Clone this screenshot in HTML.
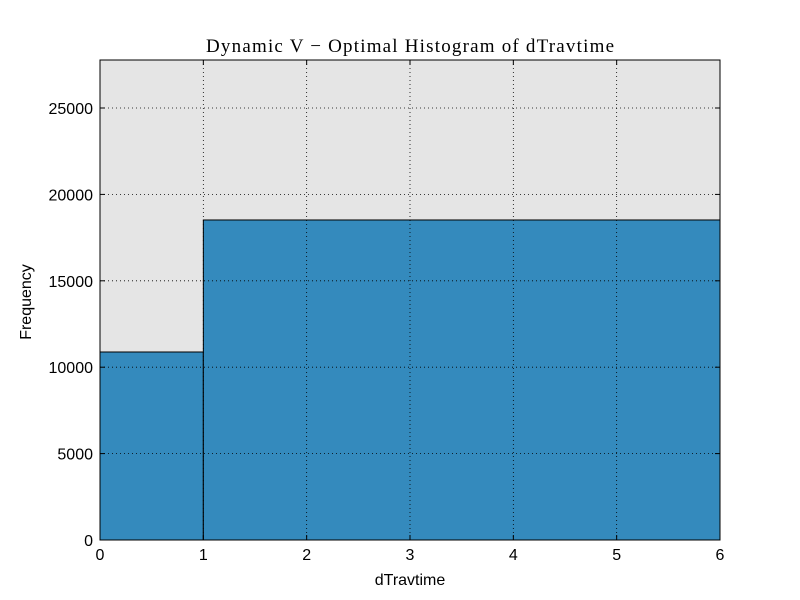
<!DOCTYPE html>
<html><head><meta charset="utf-8"><style>
body{margin:0;background:#fff;}
svg{display:block;font-family:"Liberation Sans",sans-serif;}
</style></head><body>
<svg id="chart" width="800" height="600">
<rect x="0" y="0" width="800" height="600" fill="#fff"/>
<rect x="100" y="60" width="620" height="480" fill="#e5e5e5"/>
<g id="bars"></g><g id="grid"></g>
<rect x="100" y="60" width="620" height="480" fill="none" stroke="#000" stroke-width="1"/>
<g id="ticks"></g>
<text x="410" y="52" text-anchor="middle" font-family="'Liberation Serif',serif" font-size="19" textLength="408" lengthAdjust="spacing">Dynamic V − Optimal Histogram of dTravtime</text>
<text x="410" y="585" text-anchor="middle" font-size="16">dTravtime</text>
<text x="31" y="302" text-anchor="middle" font-size="16" transform="rotate(-90 31 302)">Frequency</text>
</svg>
<script>
const binEdges=[0,1,6];
const counts=[10880,18520];
const xTicks=[0,1,2,3,4,5,6];
const yTicks=[0,5000,10000,15000,20000,25000];
const xMin=0,xMax=6,yMin=0,yMax=27778;
const L=100,R=720,T=60,B=540;
const sx=v=>L+(v-xMin)/(xMax-xMin)*(R-L);
const sy=v=>B-(v-yMin)/(yMax-yMin)*(B-T);
const NS="http://www.w3.org/2000/svg";
function mk(tag,attrs,parent){const e=document.createElementNS(NS,tag);for(const k in attrs)e.setAttribute(k,attrs[k]);document.getElementById(parent).appendChild(e);return e;}
counts.forEach((c,i)=>{
 const el=mk('rect',{x:sx(binEdges[i]),y:sy(c),width:sx(binEdges[i+1])-sx(binEdges[i]),height:sy(0)-sy(c),fill:'#348abd',stroke:'#000','stroke-width':1},'bars');
 
 
});
xTicks.forEach(t=>{
 const x=sx(t);
 if(t>xMin&&t<xMax){const g=mk('line',{x1:x,x2:x,y1:T,y2:B,stroke:'#000','stroke-width':0.8,'stroke-dasharray':'1,3'},'grid');
 
 }
 mk('line',{x1:x,x2:x,y1:B,y2:B-5,stroke:'#000'},'ticks');
 mk('line',{x1:x,x2:x,y1:T,y2:T+5,stroke:'#000'},'ticks');
 const l=mk('text',{x:x,y:B+20,'text-anchor':'middle','font-size':16},'ticks');l.textContent=t;
 
 
});
yTicks.forEach(t=>{
 const y=sy(t);
 if(t>yMin){const g=mk('line',{x1:L,x2:R,y1:y,y2:y,stroke:'#000','stroke-width':0.8,'stroke-dasharray':'1,3'},'grid');
 
 }
 mk('line',{x1:L,x2:L+5,y1:y,y2:y,stroke:'#000'},'ticks');
 mk('line',{x1:R,x2:R-5,y1:y,y2:y,stroke:'#000'},'ticks');
 const l=mk('text',{x:L-7,y:y+6,'text-anchor':'end','font-size':16},'ticks');l.textContent=t;
 
 
});
</script>
</body></html>
